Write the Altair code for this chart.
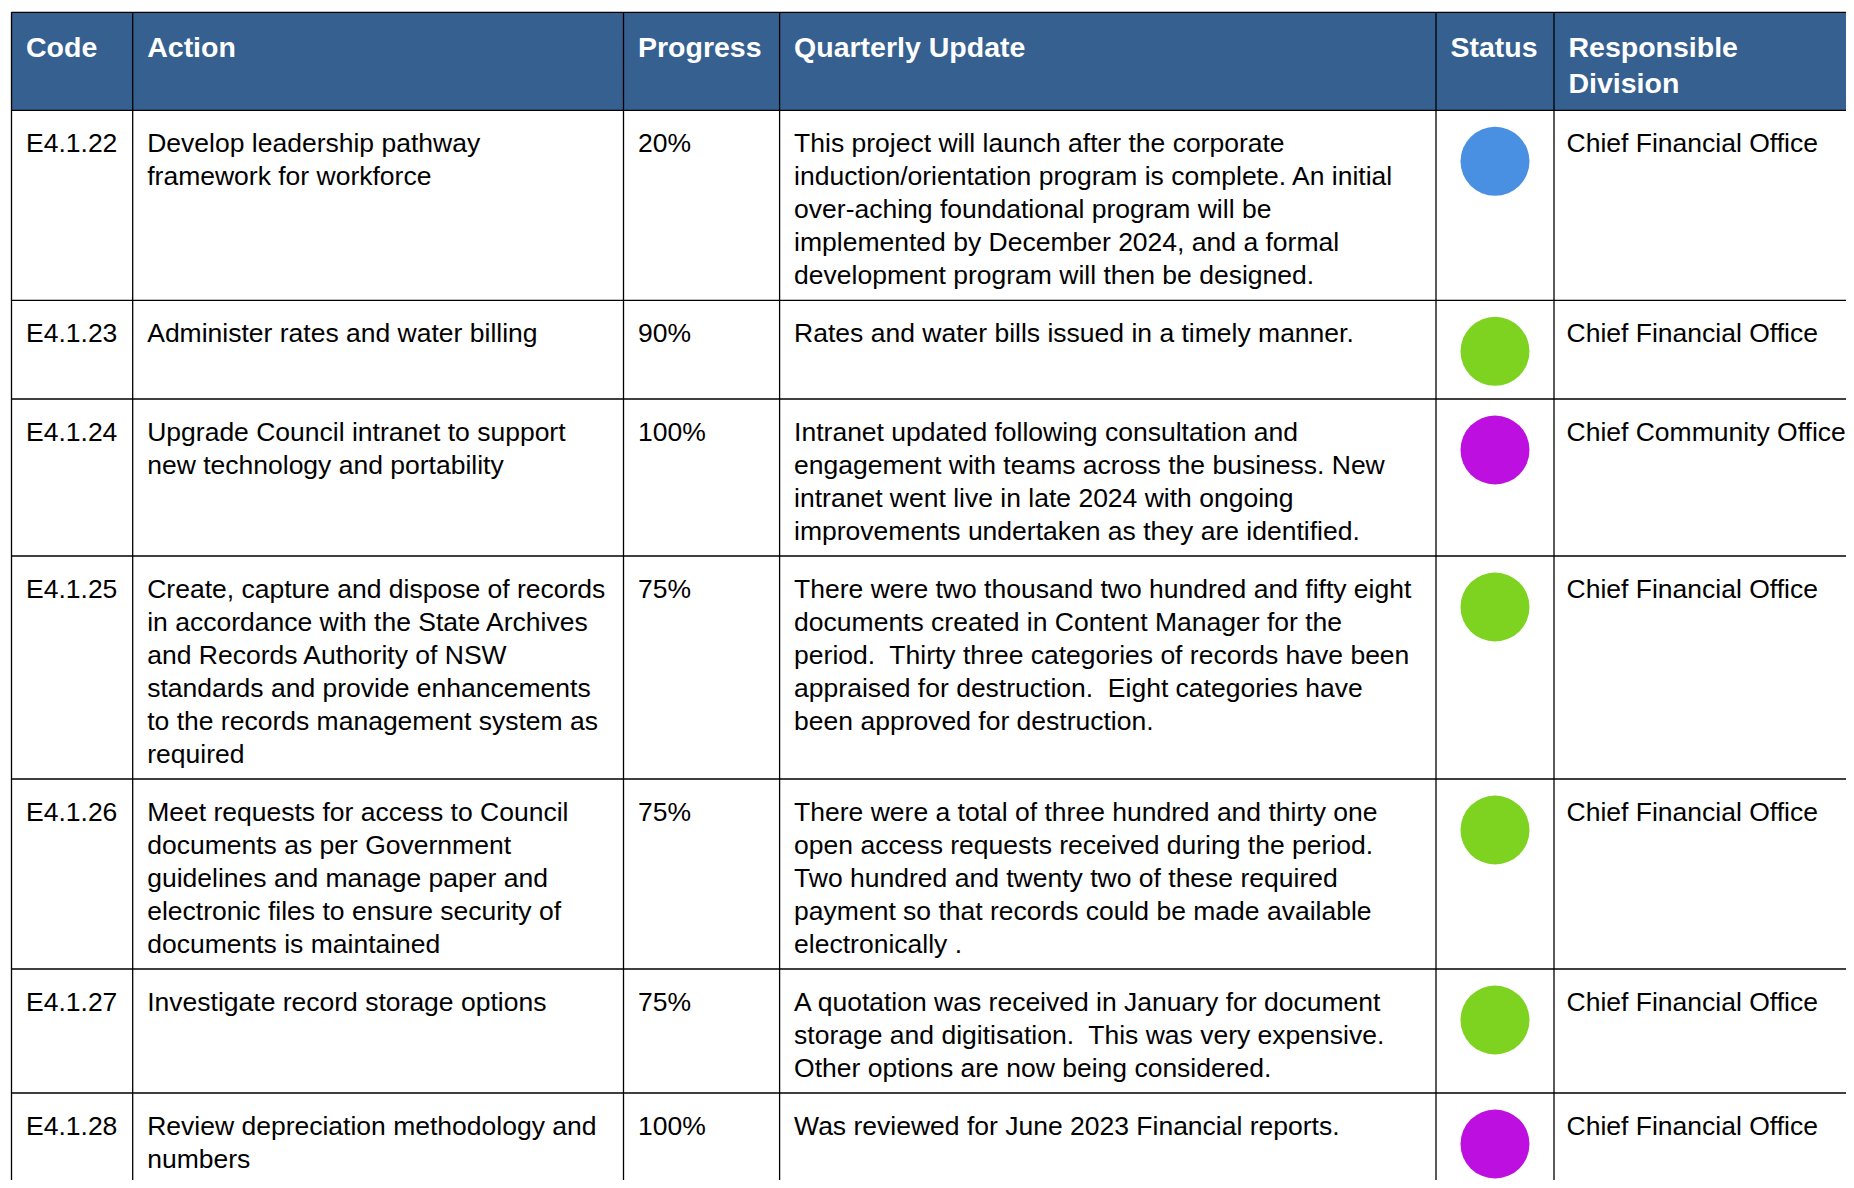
import altair as alt
import pandas as pd

# ---------------- data ----------------
headers = [["Code"], ["Action"], ["Progress"], ["Quarterly Update"], ["Status"], ["Responsible", "Division"]]

codes = ["E4.1.22", "E4.1.23", "E4.1.24", "E4.1.25", "E4.1.26", "E4.1.27", "E4.1.28"]

actions = [
    ["Develop leadership pathway", "framework for workforce"],
    ["Administer rates and water billing"],
    ["Upgrade Council intranet to support", "new technology and portability"],
    ["Create, capture and dispose of records", "in accordance with the State Archives",
     "and Records Authority of NSW", "standards and provide enhancements",
     "to the records management system as", "required"],
    ["Meet requests for access to Council", "documents as per Government",
     "guidelines and manage paper and", "electronic files to ensure security of",
     "documents is maintained"],
    ["Investigate record storage options"],
    ["Review depreciation methodology and", "numbers"],
]

progress = ["20%", "90%", "100%", "75%", "75%", "75%", "100%"]

updates = [
    ["This project will launch after the corporate",
     "induction/orientation program is complete. An initial",
     "over-aching foundational program will be",
     "implemented by December 2024, and a formal",
     "development program will then be designed."],
    ["Rates and water bills issued in a timely manner."],
    ["Intranet updated following consultation and",
     "engagement with teams across the business. New",
     "intranet went live in late 2024 with ongoing",
     "improvements undertaken as they are identified."],
    ["There were two thousand two hundred and fifty eight",
     "documents created in Content Manager for the",
     "period.\u00a0 Thirty three categories of records have been",
     "appraised for destruction.\u00a0 Eight categories have",
     "been approved for destruction."],
    ["There were a total of three hundred and thirty one",
     "open access requests received during the period.",
     "Two hundred and twenty two of these required",
     "payment so that records could be made available",
     "electronically ."],
    ["A quotation was received in January for document",
     "storage and digitisation.\u00a0 This was very expensive.",
     "Other options are now being considered."],
    ["Was reviewed for June 2023 Financial reports."],
]

status = ["In progress", "On track", "Completed", "On track", "On track", "On track", "Completed"]
status_domain = ["In progress", "On track", "Completed"]
status_colors = ["#4A90E2", "#7ED321", "#BD10E0"]

divisions = ["Chief Financial Office", "Chief Financial Office", "Chief Community Office",
             "Chief Financial Office", "Chief Financial Office", "Chief Financial Office",
             "Chief Financial Office"]

# ---------------- layout (page pixel units) ----------------
OFF = 8
W, H = 1838, 1172
col_edges = [11.5, 132.7, 623.5, 779.6, 1436.0, 1554.0, 1900.0]
col_pads = [14.5, 14.5, 14.5, 14.5, 14.5, 12.5]
PAD = 14.5
TOP, HEAD_BOT = 12.3, 110.3
LINE_H = 33.0
ROW_PAD = 25.0
MIN_ROW = 98.7
BASE_OFF = 41.5
CIRCLE_OFF = 51.0
CIRCLE_D = 69.0
HEADER_BLUE = "#366090"
FONT = "Arial, Liberation Sans"

# rows
row_tops = []
y = HEAD_BOT
for i in range(len(codes)):
    row_tops.append(y)
    n = max(len(actions[i]), len(updates[i]), 1)
    y += max(n * LINE_H + ROW_PAD, MIN_ROW)
row_edges = row_tops + [y]

# text tables
header_rows = []
for c, lines in enumerate(headers):
    for k, t in enumerate(lines):
        header_rows.append({"x": col_edges[c] + PAD, "y": 56.7 + 36 * k, "t": t})
header_df = pd.DataFrame(header_rows)

body_rows = []
for i in range(len(codes)):
    cells = [[codes[i]], actions[i], [progress[i]], updates[i], [], [divisions[i]]]
    for c, lines in enumerate(cells):
        for k, t in enumerate(lines):
            body_rows.append({"x": col_edges[c] + col_pads[c], "y": row_tops[i] + BASE_OFF + LINE_H * k, "t": t})
body_df = pd.DataFrame(body_rows)

circle_df = pd.DataFrame({
    "x": [(col_edges[4] + col_edges[5]) / 2 + 0.0] * len(codes),
    "y": [t + CIRCLE_OFF for t in row_tops],
    "status": status,
})

xs = alt.Scale(domain=[OFF, OFF + W], nice=False, zero=False)
ys = alt.Scale(domain=[OFF + H, OFF], nice=False, zero=False)
X = lambda f: alt.X(f, type="quantitative", scale=xs, axis=None)
Y = lambda f: alt.Y(f, type="quantitative", scale=ys, axis=None)

header_rect = alt.Chart(pd.DataFrame({"x": [col_edges[0]], "x2": [col_edges[-1]], "y": [TOP], "y2": [HEAD_BOT]})).mark_rect(
    color=HEADER_BLUE).encode(x=X("x"), x2="x2", y=Y("y"), y2="y2")

hl_df = pd.DataFrame({"y": [TOP, HEAD_BOT] + row_edges[1:], "x": col_edges[0], "x2": col_edges[-1]})
hlines = alt.Chart(hl_df).mark_rule(color="#000000", strokeWidth=1.3).encode(x=X("x"), x2="x2", y=Y("y"))

vl_df = pd.DataFrame({"x": col_edges[:-1], "y": TOP, "y2": row_edges[-1]})
vlines = alt.Chart(vl_df).mark_rule(color="#000000", strokeWidth=1.3).encode(x=X("x"), y=Y("y"), y2="y2")

header_text = alt.Chart(header_df).mark_text(
    align="left", baseline="alphabetic", font=FONT, fontSize=28.5, fontWeight="bold", color="#ffffff"
).encode(x=X("x"), y=Y("y"), text="t:N")

body_text = alt.Chart(body_df).mark_text(
    align="left", baseline="alphabetic", font=FONT, fontSize=26.5, color="#000000"
).encode(x=X("x"), y=Y("y"), text="t:N")

# Vega circle symbol: size is the square of the diameter
circles = alt.Chart(circle_df).mark_circle(size=CIRCLE_D * CIRCLE_D, opacity=1).encode(
    x=X("x"), y=Y("y"),
    color=alt.Color("status:N", scale=alt.Scale(domain=status_domain, range=status_colors), legend=None),
)

chart = alt.layer(header_rect, hlines, vlines, circles, header_text, body_text).properties(
    width=W, height=H, padding=0, autosize=alt.AutoSizeParams(type="none")
).configure_view(stroke=None)

chart.save("out.html", embed_options={"renderer": "svg", "actions": False})
